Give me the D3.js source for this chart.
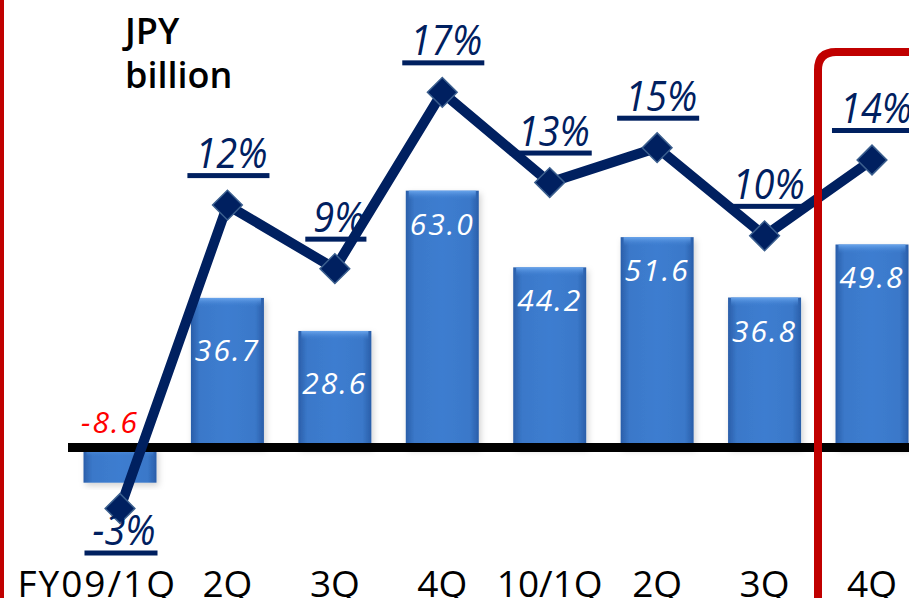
<!DOCTYPE html>
<html>
<head>
<meta charset="utf-8">
<script src="https://d3js.org/d3.v7.min.js"></script>
<style>
    html, body {
        margin: 0;
        padding: 0;
        background: #fff;
    }
    svg {
        display: block;
        font-family: 'Open Sans', sans-serif;
    }
</style>
</head>
<body>
<svg id="chart" width="909" height="598"></svg>
<script>
    // quarterly values, JPY billion, and margin in %
    var quarters = ["FY09/1Q", "2Q", "3Q", "4Q", "10/1Q", "2Q ", "3Q ", "4Q "];
    var quarterLabels = ["FY09/1Q", "2Q", "3Q", "4Q", "10/1Q", "2Q", "3Q", "4Q"];
    var profit = [-8.6, 36.7, 28.6, 63.0, 44.2, 51.6, 36.8, 49.8];
    var profitLabels = ["-8.6", "36.7", "28.6", "63.0", "44.2", "51.6", "36.8", "49.8"];
    var margin = [-3.0, 11.8, 8.7, 17.3, 12.9, 14.6, 10.3, 14.0];
    var marginLabels = ["-3%", "12%", "9%", "17%", "13%", "15%", "10%", "14%"];

    var navy = "#002060";
    var svg = d3.select("#chart");

    var x = d3.scalePoint().domain(quarters).range([120, 872]);
    var yBar = d3.scaleLinear().domain([-10, 70]).range([488.4, 162.1]);
    var yPct = d3.scaleLinear().domain([-5, 20]).range([549.5, 37]);
    var barW = 73;

    var defs = svg.append("defs");
    var g = defs.append("linearGradient").attr("id", "barFill")
        .attr("x1", "0").attr("x2", "1").attr("y1", "0").attr("y2", "0");
    g.append("stop").attr("offset", "0%").attr("stop-color", "#2a5ea9");
    g.append("stop").attr("offset", "12%").attr("stop-color", "#3a78c9");
    g.append("stop").attr("offset", "50%").attr("stop-color", "#3d7dd0");
    g.append("stop").attr("offset", "88%").attr("stop-color", "#3a78c9");
    g.append("stop").attr("offset", "100%").attr("stop-color", "#2a5ea9");
    var gt = defs.append("linearGradient").attr("id", "barTop")
        .attr("x1", "0").attr("x2", "0").attr("y1", "0").attr("y2", "1");
    gt.append("stop").attr("offset", "0%").attr("stop-color", "#6aa5ec");
    gt.append("stop").attr("offset", "100%").attr("stop-color", "#3d7dd0").attr("stop-opacity", 0);
    var sh = defs.append("filter").attr("id", "shadow")
        .attr("x", "-20%").attr("y", "-10%").attr("width", "140%").attr("height", "130%");
    sh.append("feDropShadow").attr("dx", 2).attr("dy", 3).attr("stdDeviation", 3)
        .attr("flood-color", "#000").attr("flood-opacity", 0.18);

    // bars
    var bars = svg.append("g").selectAll("g").data(profit).enter().append("g")
        .attr("filter", "url(#shadow)");
    bars.append("rect")
        .attr("x", function (d, i) { return x(quarters[i]) - barW / 2; })
        .attr("y", function (d) { return yBar(Math.max(d, 0)); })
        .attr("width", barW)
        .attr("height", function (d) { return Math.abs(yBar(d) - yBar(0)); })
        .attr("fill", "url(#barFill)");
    bars.append("rect")
        .attr("x", function (d, i) { return x(quarters[i]) - barW / 2 + 3; })
        .attr("y", function (d) { return d > 0 ? yBar(d) : yBar(0); })
        .attr("width", barW - 6)
        .attr("height", 9)
        .attr("fill", "url(#barTop)");

    // bar value labels
    svg.append("g").selectAll("text").data(profit).enter().append("text")
        .attr("x", function (d, i) { return d < 0 ? x(quarters[i]) - 10 : x(quarters[i]); })
        .attr("y", function (d, i) {
            if (d < 0) return yBar(0) - 15;
            return yBar(d) + (i === 1 || i === 2 ? 63 : 44);
        })
        .attr("text-anchor", "middle")
        .style("font-size", "30px")
        .style("font-style", "italic")
        .style("letter-spacing", "2px")
        .style("fill", function (d) { return d < 0 ? "#ff0000" : "#fff"; })
        .text(function (d, i) { return profitLabels[i]; });

    // zero line
    svg.append("line")
        .attr("x1", 68).attr("x2", 909)
        .attr("y1", yBar(0)).attr("y2", yBar(0))
        .style("stroke", "#000").style("stroke-width", 9);

    // margin line
    var line = d3.line()
        .x(function (d, i) { return x(quarters[i]); })
        .y(function (d) { return yPct(d); });
    svg.append("path").datum(margin)
        .attr("d", line)
        .style("fill", "none").style("stroke", navy)
        .style("stroke-width", 10).style("stroke-linejoin", "miter");

    svg.append("g").selectAll("rect").data(margin).enter().append("rect")
        .attr("x", -10.5).attr("y", -10.5).attr("width", 21).attr("height", 21)
        .attr("transform", function (d, i) {
            return "translate(" + x(quarters[i]) + "," + yPct(d) + ") rotate(45)";
        })
        .style("fill", navy).style("stroke", "#3b5f8e").style("stroke-width", 1.5);

    // margin labels with underline
    var pl = svg.append("g").selectAll("g").data(margin).enter().append("g");
    pl.append("text")
        .attr("transform", function (d, i) {
            var ty = d < 0 ? yPct(d) + 36 : yPct(d) - 37;
            return "translate(" + (x(quarters[i]) + 4) + "," + ty + ") scale(1,1.12)";
        })
        .attr("text-anchor", "middle")
        .style("font-size", "38px")
        .style("font-style", "italic")
        .style("fill", navy)
        .text(function (d, i) { return marginLabels[i]; });
    pl.each(function (d, i) {
        var t = d3.select(this).select("text");
        var w = t.node().getComputedTextLength();
        var cx = x(quarters[i]) + 4;
        var uy = d < 0 ? yPct(d) + 42 : yPct(d) - 32;
        d3.select(this).append("rect")
            .attr("x", cx - w / 2 - 8).attr("y", uy)
            .attr("width", w + 10).attr("height", 5)
            .style("fill", navy);
    });

    // category labels
    svg.append("g").selectAll("text").data(quarterLabels).enter().append("text")
        .attr("x", function (d, i) { return i === 0 ? x(quarters[i]) + 57 : x(quarters[i]); })
        .attr("y", 597)
        .attr("text-anchor", function (d, i) { return i === 0 ? "end" : "middle"; })
        .style("font-size", "37px")
        .style("letter-spacing", function (d, i) { return i === 0 ? "2px" : null; })
        .style("fill", "#000")
        .text(function (d) { return d; });

    // unit
    var unit = svg.append("text").style("font-size", "36px").style("font-weight", 600).style("fill", "#000");
    unit.append("tspan").attr("x", 125).attr("y", 44).text("JPY");
    unit.append("tspan").attr("x", 125).attr("y", 88).text("billion");

    // highlight frame and left rule
    svg.append("path")
        .attr("d", "M818,598 V70 Q818,52 836,52 H920")
        .style("fill", "none").style("stroke", "#c00000").style("stroke-width", 8);
    svg.append("rect").attr("x", 0).attr("y", 0).attr("width", 4).attr("height", 598)
        .style("fill", "#c00000");
</script>
</body>
</html>
